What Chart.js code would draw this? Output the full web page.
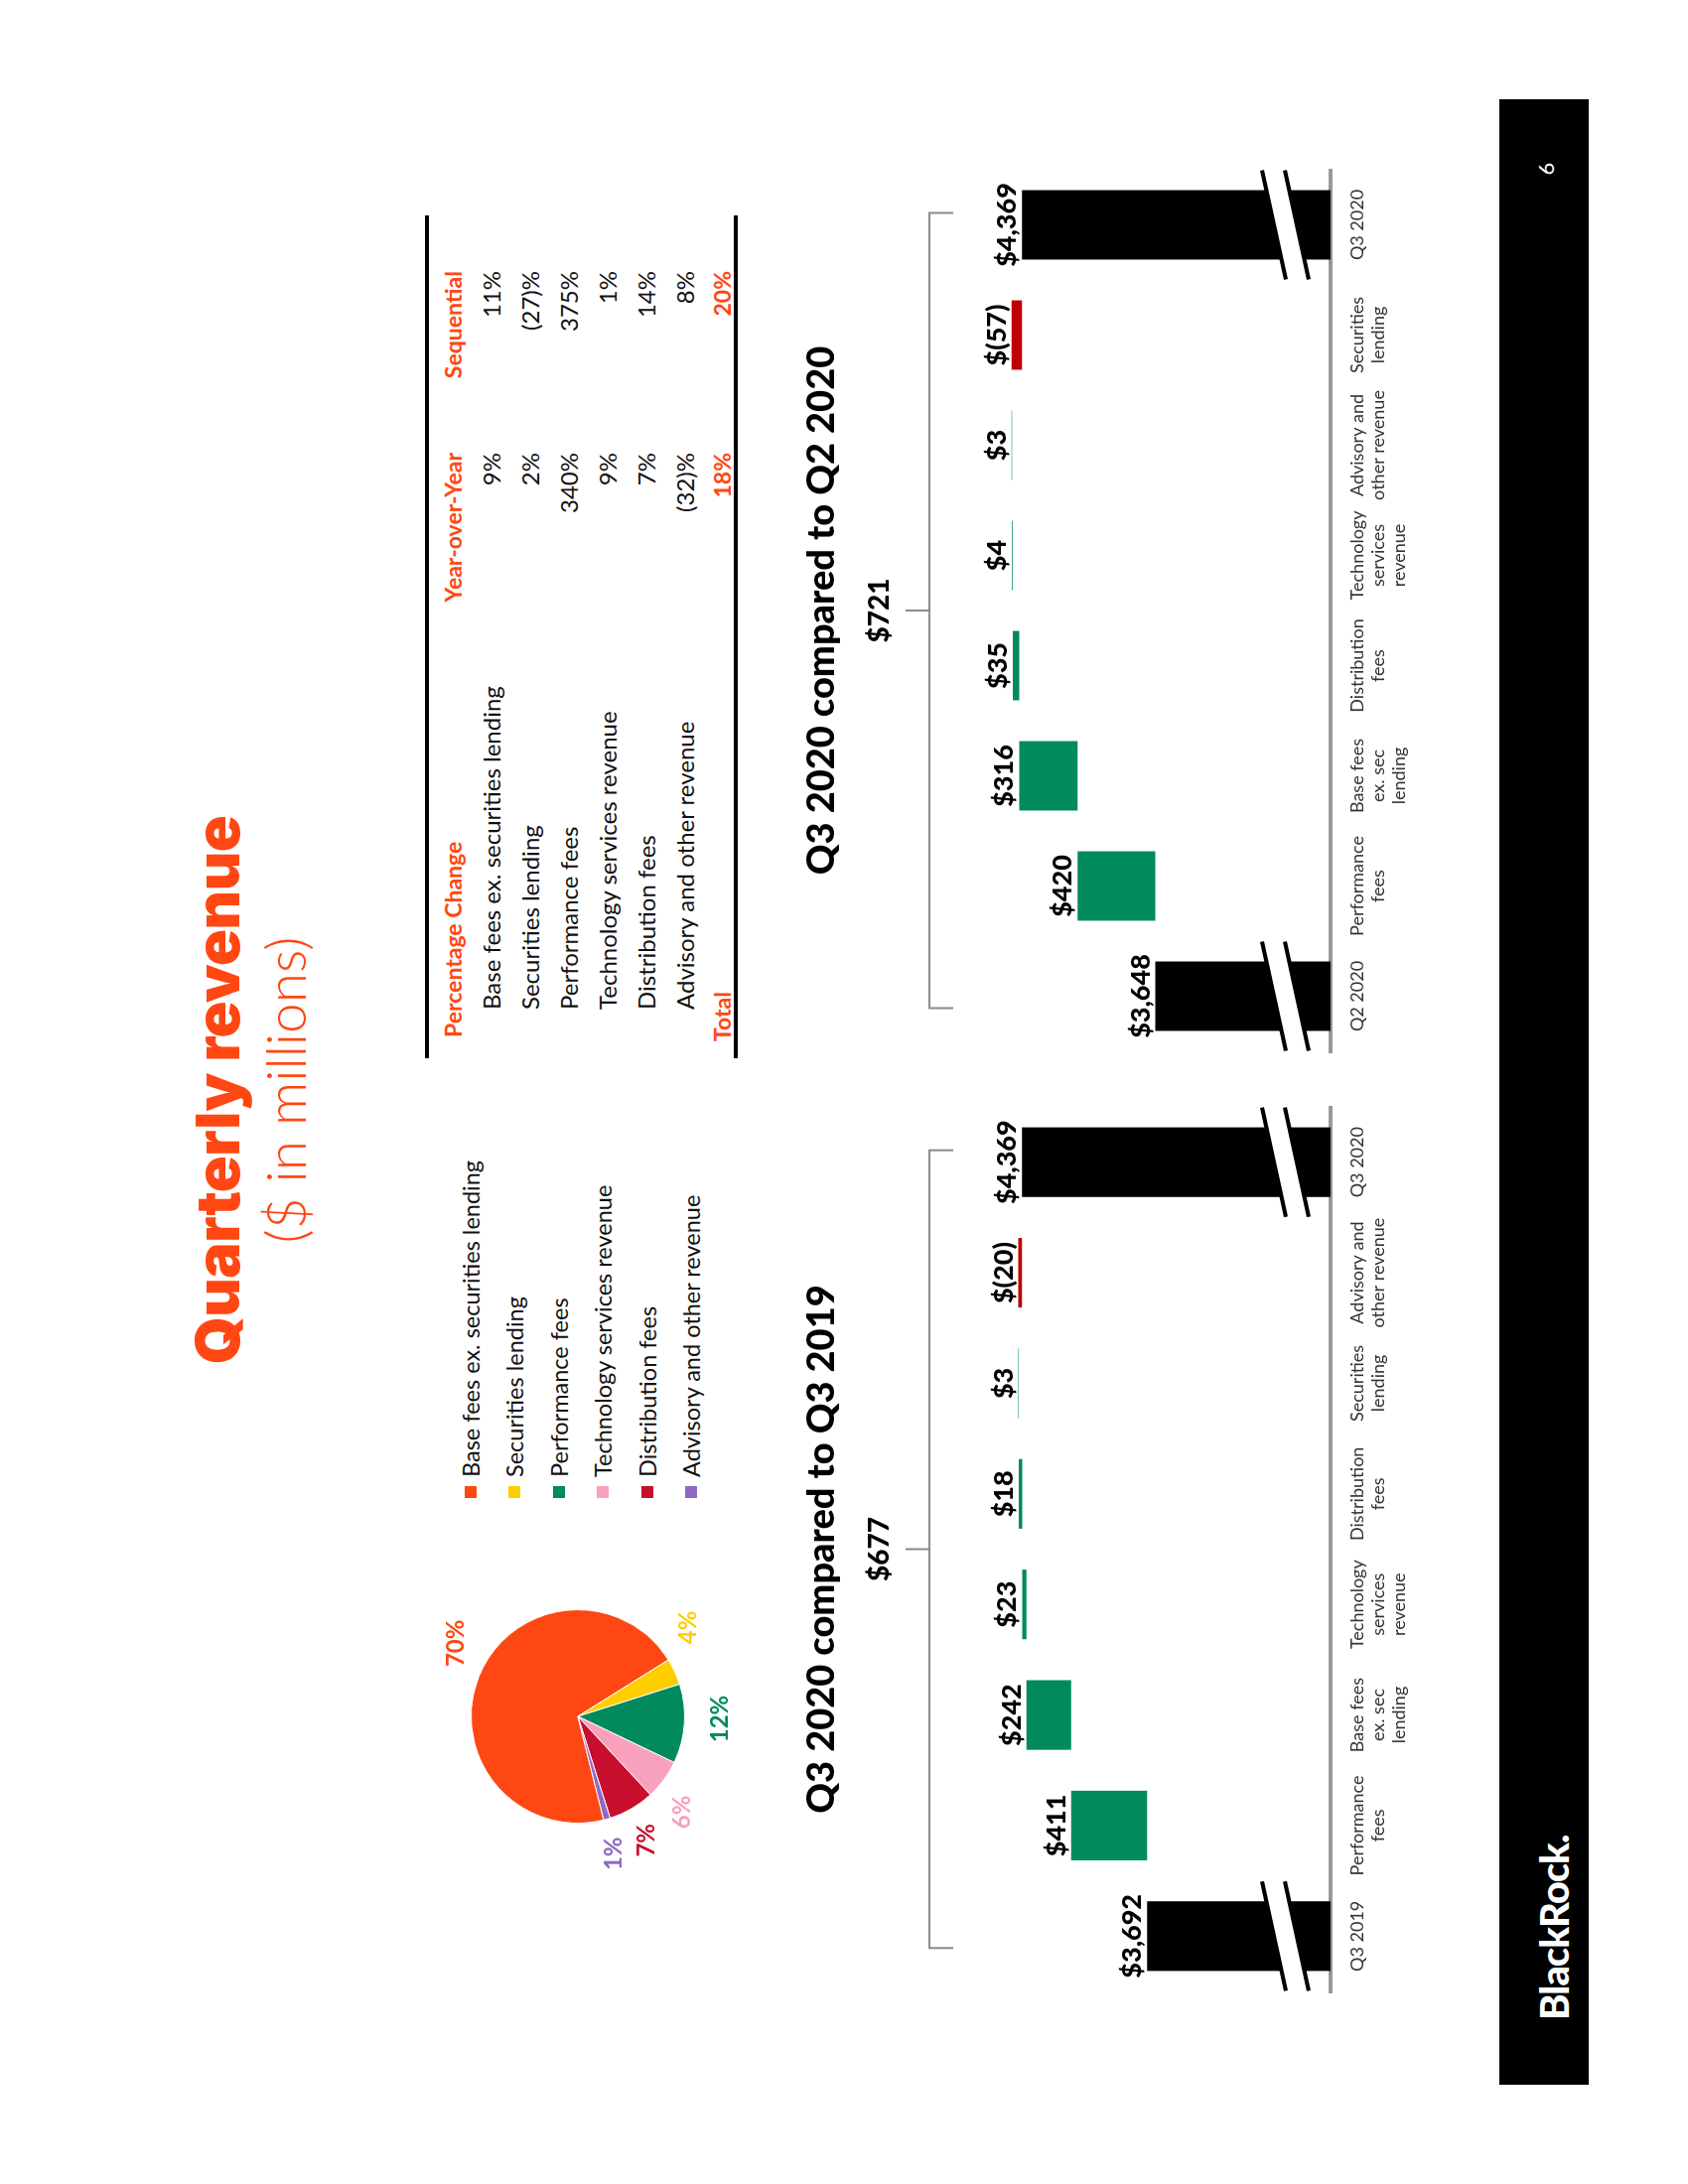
<!DOCTYPE html>
<html lang="en">
<head>
<meta charset="UTF-8">
<title>Quarterly revenue</title>
<script src="https://cdn.jsdelivr.net/npm/chart.js"></script>
<style>
  body { margin: 0; width: 1700px; height: 2200px; overflow: hidden; background: #fff; font-family: Lato, "Open Sans", sans-serif; }
  /* the slide is built landscape and turned a quarter turn */
  #slide { position: absolute; left: 0; top: 0; width: 2200px; height: 1700px; transform-origin: 0 0; transform: translate(0px, 2200px) rotate(-90deg); background: #fff; }
  .abs { position: absolute; white-space: nowrap; }
  .c { transform: translate(-50%, -50%); }
  .title { color: #ff4713; font-family: Inter, Lato, sans-serif; font-weight: 900; font-size: 61px; line-height: 1; letter-spacing: -0.5px; }
  .subtitle { color: #ff4713; font-weight: 300; font-size: 55px; line-height: 1; }
  canvas { position: absolute; }
  .lg { position: absolute; display: flex; align-items: center; height: 30px; font-size: 23.5px; color: #111; }
  .lg i { display: inline-block; width: 12px; height: 12px; margin-right: 9px; }
  #table { position: absolute; left: 1134px; top: 428px; width: 849px; height: 307px; border-top: 4px solid #000; border-bottom: 4px solid #000; }
  .cell { position: absolute; white-space: nowrap; font-size: 24px; line-height: 28px; color: #111; transform: translateY(-50%); }
  .hd { color: #ff4713; font-weight: 700; font-size: 23px; }
  .r { transform: translate(-100%, -50%); }
  #footer { position: absolute; left: 100px; top: 1510px; width: 2000px; height: 90px; background: #000; }
  .logo { position: absolute; left: 65px; top: 55px; transform: translateY(-50%); color: #fff; font-weight: 900; font-size: 40px; letter-spacing: -1px; }
  .pg { position: absolute; left: 1930px; top: 46px; transform: translate(-50%, -50%); color: #fff; font-size: 22px; }
</style>
</head>
<body>
<div id="slide">
  <div class="abs c title" style="left:1102px; top:219px;">Quarterly revenue</div>
  <div class="abs c subtitle" style="left:1102px; top:287px;">($ in millions)</div>

  <canvas id="pieChart" width="400" height="400" style="left:271px; top:382px;"></canvas>
  <div id="legend"></div>
  <div id="table"></div>

  <canvas id="wfA" width="980" height="660" style="left:150px; top:780px;"></canvas>
  <canvas id="wfB" width="980" height="660" style="left:1100px; top:780px;"></canvas>

  <div id="footer">
    <span class="logo">BlackRock.</span>
    <span class="pg">6</span>
  </div>
</div>

<script>

// revenue mix
const categories = [
    "Base fees ex. securities lending",
    "Securities lending",
    "Performance fees",
    "Technology services revenue",
    "Distribution fees",
    "Advisory and other revenue"
];
const shareValues = [70, 4, 12, 6, 7, 1];
const shareColors = ["#ff4713", "#ffce00", "#008a5e", "#f7a1bd", "#c8102e", "#9167c4"];

// percentage change table
const yoyChange = ["9%", "2%", "340%", "9%", "7%", "(32)%"];
const seqChange = ["11%", "(27)%", "375%", "1%", "14%", "8%"];
const totalYoy = "18%";
const totalSeq = "20%";

// Q3 2020 vs Q3 2019
const titleA = "Q3 2020 compared to Q3 2019";
const labelsA = ["Q3 2019", ["Performance", "fees"], ["Base fees", "ex. sec", "lending"], ["Technology", "services", "revenue"], ["Distribution", "fees"], ["Securities", "lending"], ["Advisory and", "other revenue"], "Q3 2020"];
const valuesA = [3692, 411, 242, 23, 18, 3, -20, 4369];

// Q3 2020 vs Q2 2020
const titleB = "Q3 2020 compared to Q2 2020";
const labelsB = ["Q2 2020", ["Performance", "fees"], ["Base fees", "ex. sec", "lending"], ["Distribution", "fees"], ["Technology", "services", "revenue"], ["Advisory and", "other revenue"], ["Securities", "lending"], "Q3 2020"];
const valuesB = [3648, 420, 316, 35, 4, 3, -57, 4369];


// legend
const legend = document.getElementById("legend");
categories.forEach((name, i) => {
    const item = document.createElement("div");
    item.className = "lg";
    item.style.left = "691px";
    item.style.top = (474 + 44.4 * i - 15) + "px";
    item.innerHTML = `<i style="background:${shareColors[i]}"></i>${name}`;
    legend.appendChild(item);
});


// table
const table = document.getElementById("table");
function cell(text, x, y, cls) {
    const d = document.createElement("div");
    d.className = "cell " + (cls || "");
    d.style.left = x + "px";
    d.style.top = y + "px";
    d.textContent = text;
    table.appendChild(d);
}
cell("Percentage Change", 21, 24, "hd");
cell("Year-over-Year", 610, 24, "hd r");
cell("Sequential", 793, 24, "hd r");
categories.forEach((name, i) => {
    const y = 24 + 39 * (i + 1);
    cell(name, 49, y);
    cell(yoyChange[i], 610, y, "r");
    cell(seqChange[i], 793, y, "r");
});
cell("Total", 17, 22 + 39 * 7, "hd");
cell(totalYoy, 610, 22 + 39 * 7, "hd r");
cell(totalSeq, 793, 22 + 39 * 7, "hd r");


// pie
const pieLabels = {
    id: "pieLabels",
    afterDatasetsDraw(chart, args, opts) {
        const ctx = chart.ctx;
        const meta = chart.getDatasetMeta(0);
        ctx.save();
        ctx.font = "bold 24px Lato";
        ctx.textAlign = "center";
        ctx.textBaseline = "middle";
        meta.data.forEach((arc, i) => {
            const mid = (arc.startAngle + arc.endAngle) / 2 + opts.nudge[i] * Math.PI / 180;
            ctx.fillStyle = shareColors[i];
            ctx.fillText(shareValues[i] + "%", arc.x + opts.radius * Math.cos(mid), arc.y + opts.radius * Math.sin(mid));
        });
        ctx.restore();
    }
};

new Chart(document.getElementById("pieChart"), {
    type: "pie",
    data: {
        labels: categories,
        datasets: [{ data: shareValues, backgroundColor: shareColors, borderColor: "#fff", borderWidth: 1 }]
    },
    options: {
        responsive: false,
        animation: false,
        rotation: 256,
        layout: { padding: 92 },
        plugins: {
            legend: { display: false },
            tooltip: { enabled: false },
            pieLabels: { radius: 143, nudge: [9, -14, -3, 6, 1, 1] }
        }
    },
    plugins: [pieLabels]
});


// waterfalls
function waterfall(values) {
    let run = 0;
    return values.map((v, i) => {
        if (i === 0 || i === values.length - 1) { run = v; return [0, v]; }
        const r = [run, run + v];
        run += v;
        return r;
    });
}

function money(v) {
    return v < 0 ? "$(" + Math.abs(v) + ")" : "$" + v.toLocaleString("en-US");
}

const wfExtras = {
    id: "wfExtras",
    afterDatasetsDraw(chart, args, opts) {
        const ctx = chart.ctx;
        const area = chart.chartArea;
        const meta = chart.getDatasetMeta(0);
        const y = chart.scales.y;
        const x = chart.scales.x;
        const ranges = chart.data.datasets[0].data;
        const last = opts.values.length - 1;

        ctx.save();
        // axis break marks on the total bars
        meta.data.forEach((bar, i) => {
            if (i !== 0 && i !== last) return;
            const half = bar.width / 2 + 20;
            const y1 = area.bottom - 57, y2 = area.bottom - 34, rise = 12;
            ctx.fillStyle = "#fff";
            ctx.beginPath();
            ctx.moveTo(bar.x - half, y1 + rise);
            ctx.lineTo(bar.x + half, y1 - rise);
            ctx.lineTo(bar.x + half, y2 - rise);
            ctx.lineTo(bar.x - half, y2 + rise);
            ctx.closePath();
            ctx.fill();
            ctx.strokeStyle = "#000";
            ctx.lineWidth = 4;
            [y1, y2].forEach(yy => {
                ctx.beginPath();
                ctx.moveTo(bar.x - half, yy + rise);
                ctx.lineTo(bar.x + half, yy - rise);
                ctx.stroke();
            });
        });

        // value labels
        ctx.fillStyle = "#000";
        ctx.font = "900 27px Lato";
        ctx.textAlign = "center";
        ctx.textBaseline = "alphabetic";
        meta.data.forEach((bar, i) => {
            const top = y.getPixelForValue(Math.max(ranges[i][0], ranges[i][1]));
            ctx.fillText(money(opts.values[i]), bar.x, top - 6);
        });

        // bracket, change and title
        const x1 = x.getPixelForValue(0) - 12;
        const x2 = x.getPixelForValue(last) + 12;
        const mid = (x1 + x2) / 2;
        const by = opts.bracketY;
        ctx.strokeStyle = "#8a8a8a";
        ctx.lineWidth = 2;
        ctx.beginPath();
        ctx.moveTo(x1, by + 24); ctx.lineTo(x1, by); ctx.lineTo(x2, by); ctx.lineTo(x2, by + 24);
        ctx.moveTo(mid, by); ctx.lineTo(mid, by - 24);
        ctx.stroke();

        ctx.fillStyle = "#000";
        ctx.textBaseline = "middle";
        ctx.font = "900 28px Lato";
        ctx.fillText("$" + (opts.values[last] - opts.values[0]), mid, by - 50);
        ctx.font = "900 38px Lato";
        ctx.fillText(opts.title, mid, by - 108);
        ctx.restore();
    }
};

function makeWaterfall(id, labels, values, title, padLeft, padRight) {
    new Chart(document.getElementById(id), {
        type: "bar",
        data: {
            labels: labels,
            datasets: [{
                data: waterfall(values),
                backgroundColor: values.map((v, i) => (i === 0 || i === values.length - 1) ? "#000" : (v < 0 ? "#c00000" : "#008a5e")),
                borderWidth: 0,
                barPercentage: 0.63,
                categoryPercentage: 1
            }]
        },
        options: {
            responsive: false,
            animation: false,
            layout: { padding: { left: padLeft, right: padRight, top: 210, bottom: 0 } },
            plugins: {
                legend: { display: false },
                tooltip: { enabled: false },
                wfExtras: { values: values, title: title, bracketY: 156 }
            },
            scales: {
                x: {
                    grid: { display: false },
                    border: { display: true, color: "#999", width: 4 },
                    ticks: { autoSkip: false, maxRotation: 0, minRotation: 0, padding: 9, color: "#333", font: { family: "Lato", size: 18, lineHeight: 1.15 } },
                    afterFit(s) { s.height = 100; }
                },
                y: { display: false, min: 2700, max: 4580 }
            }
        },
        plugins: [wfExtras]
    });
}

makeWaterfall("wfA", labelsA, valuesA, titleA, 44, 45);
makeWaterfall("wfB", labelsB, valuesB, titleB, 41, 51);

</script>
</body>
</html>
